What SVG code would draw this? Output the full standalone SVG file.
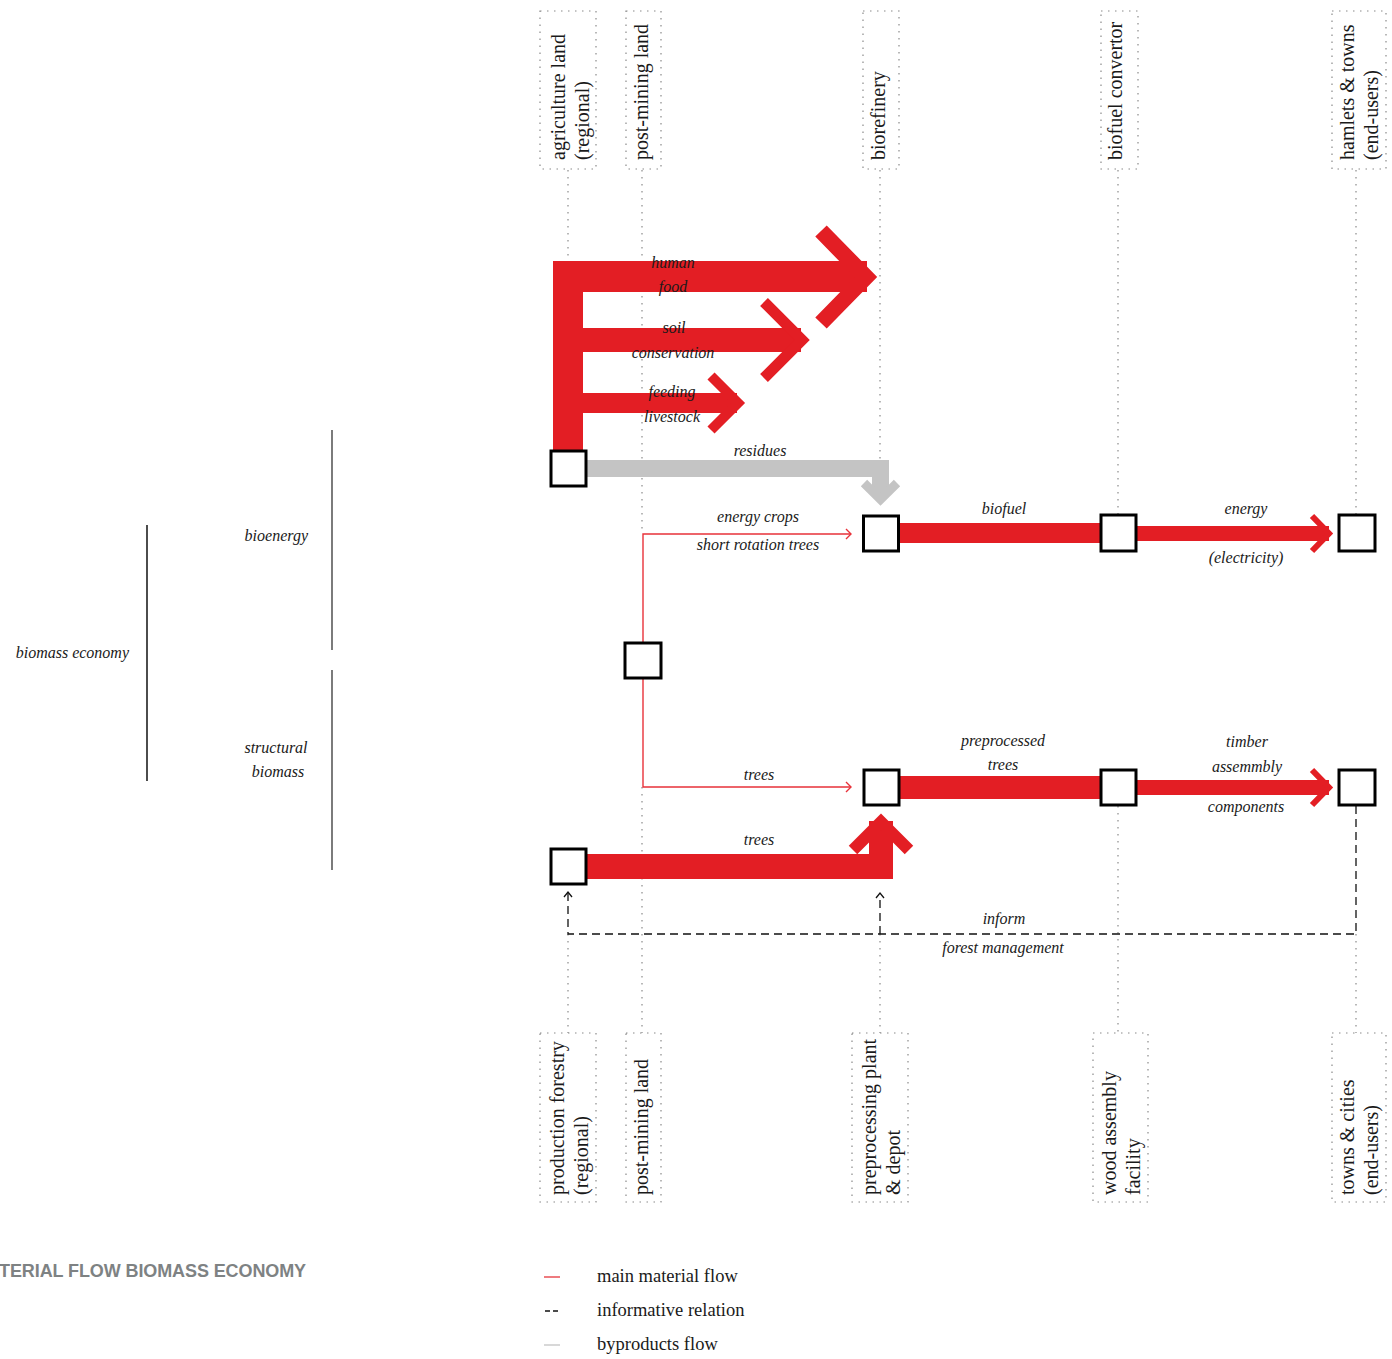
<svg xmlns="http://www.w3.org/2000/svg" width="1392" height="1359" viewBox="0 0 1392 1359">
<style>
.col{font-family:"Liberation Serif",serif;font-size:20px;fill:#1a1a1a}
.lbl{font-family:"Liberation Serif",serif;font-style:italic;font-size:16px;fill:#1a1a1a;text-anchor:middle}
.side{font-family:"Liberation Serif",serif;font-style:italic;font-size:16px;fill:#1a1a1a;text-anchor:end}
.leg{font-family:"Liberation Serif",serif;font-size:18.5px;fill:#1a1a1a}
.title{font-family:"Liberation Sans",Arial,sans-serif;font-weight:bold;font-size:18px;fill:#7e8283;text-anchor:end;letter-spacing:-0.1px}
.dbox{fill:none;stroke:#8a8a8a;stroke-width:1.2;stroke-dasharray:1.5 5.5}
.guide{fill:none;stroke:#8a8a8a;stroke-width:1.2;stroke-dasharray:1.5 5.5}
.node{fill:#fff;stroke:#000;stroke-width:3}
.red{fill:#e31e24}
.redc{fill:none;stroke:#e31e24;stroke-linejoin:miter;stroke-miterlimit:10}
.thin{fill:none;stroke:#e8323a;stroke-width:1.4}
.gray{fill:#c4c4c4}
.grayc{fill:none;stroke:#c4c4c4;stroke-linejoin:miter}
.dash{fill:none;stroke:#111;stroke-width:1.3;stroke-dasharray:8 5}
.ah{fill:none;stroke:#111;stroke-width:1.3}
.bar{stroke:#444;stroke-width:1.4}
.barb{stroke:#000;stroke-width:1.4}
</style>

<!-- column headers (top) -->
<g id="col-agriculture">
<rect class="dbox" x="540" y="11" width="56" height="158"/>
<text class="col" transform="translate(565,160) rotate(-90)">agriculture land</text>
<text class="col" transform="translate(589,160) rotate(-90)">(regional)</text>
</g>
<g id="col-postmining-top">
<rect class="dbox" x="626" y="11" width="35" height="158"/>
<text class="col" transform="translate(648,160) rotate(-90)">post-mining land</text>
</g>
<g id="col-biorefinery">
<rect class="dbox" x="863" y="11" width="36" height="158"/>
<text class="col" transform="translate(885,160) rotate(-90)">biorefinery</text>
</g>
<g id="col-biofuel-convertor">
<rect class="dbox" x="1101" y="11" width="37" height="158"/>
<text class="col" transform="translate(1122,160) rotate(-90)">biofuel convertor</text>
</g>
<g id="col-hamlets">
<rect class="dbox" x="1332" y="11" width="54" height="158"/>
<text class="col" transform="translate(1354,160) rotate(-90)">hamlets &amp; towns</text>
<text class="col" transform="translate(1378,160) rotate(-90)">(end-users)</text>
</g>

<!-- column headers (bottom) -->
<g id="col-production-forestry">
<rect class="dbox" x="540" y="1033" width="56" height="169"/>
<text class="col" transform="translate(564,1195) rotate(-90)">production forestry</text>
<text class="col" transform="translate(588,1195) rotate(-90)">(regional)</text>
</g>
<g id="col-postmining-bottom">
<rect class="dbox" x="626" y="1033" width="35" height="169"/>
<text class="col" transform="translate(648,1195) rotate(-90)">post-mining land</text>
</g>
<g id="col-preprocessing">
<rect class="dbox" x="852" y="1033" width="56" height="169"/>
<text class="col" transform="translate(876,1195) rotate(-90)">preprocessing plant</text>
<text class="col" transform="translate(900,1195) rotate(-90)">&amp; depot</text>
</g>
<g id="col-wood-assembly">
<rect class="dbox" x="1093" y="1033" width="55" height="169"/>
<text class="col" transform="translate(1116,1195) rotate(-90)">wood assembly</text>
<text class="col" transform="translate(1140,1195) rotate(-90)">facility</text>
</g>
<g id="col-towns">
<rect class="dbox" x="1332" y="1033" width="54" height="169"/>
<text class="col" transform="translate(1354,1195) rotate(-90)">towns &amp; cities</text>
<text class="col" transform="translate(1378,1195) rotate(-90)">(end-users)</text>
</g>

<!-- guide lines -->
<g id="guides">
<path class="guide" d="M568,170V260 M568,934V1033 M642,170V534 M642,787V1033 M880,170V460 M880,934V1033 M1118,170V515 M1118,806V1033 M1356,170V515 M1356,934V1033"/>
</g>

<!-- left hierarchy -->
<g id="hierarchy">
<line class="barb" x1="147" y1="525" x2="147" y2="781"/>
<line class="bar" x1="332" y1="430" x2="332" y2="650"/>
<line class="bar" x1="332" y1="670" x2="332" y2="870"/>
<text class="side" x="129" y="658">biomass economy</text>
<text class="side" x="308" y="541">bioenergy</text>
<text class="lbl" x="276" y="753">structural</text>
<text class="lbl" x="278" y="777">biomass</text>
</g>

<!-- connectors -->
<g id="connectors">
<!-- agriculture outputs -->
<rect class="red" x="553" y="261" width="30" height="192"/>
<rect class="red" x="553" y="261" width="314" height="31"/>
<polyline class="redc" stroke-width="16" points="821,231 866,277 821,323"/>
<rect class="red" x="583" y="328" width="218" height="24"/>
<polyline class="redc" stroke-width="11" points="764,302 802,340 764,378"/>
<rect class="red" x="583" y="393" width="154" height="20"/>
<polyline class="redc" stroke-width="10" points="711,376 738,403 711,430"/>
<!-- residues -->
<rect class="gray" x="586" y="460" width="303" height="17"/>
<rect class="gray" x="872" y="460" width="17" height="36"/>
<polyline class="grayc" stroke-width="9" points="864,483 880.5,499.5 897,483"/>
<!-- post-mining thin lines -->
<path class="thin" d="M643,643V534H851 M643,679V787H851"/>
<polyline class="thin" points="846,529 851,534 846,539"/>
<polyline class="thin" points="846,782 851,787 846,792"/>
<!-- bioenergy chain -->
<rect class="red" x="899" y="523" width="202" height="20"/>
<rect class="red" x="1137" y="526" width="192" height="15"/>
<polyline class="redc" stroke-width="6" points="1312,516 1329,533.5 1312,551"/>
<!-- structural chain -->
<rect class="red" x="899" y="776" width="202" height="23"/>
<rect class="red" x="1137" y="780" width="192" height="15"/>
<polyline class="redc" stroke-width="6" points="1312,770 1329,787.5 1312,805"/>
<!-- forestry trees -->
<rect class="red" x="586" y="854" width="307" height="25"/>
<rect class="red" x="869" y="821" width="24" height="58"/>
<polyline class="redc" stroke-width="12" points="853,850 881,822 909,850"/>
<!-- inform -->
<path class="dash" d="M1356,806V934H568V893 M880,934V895"/>
<polyline class="ah" points="564,897 568,892 572,897"/>
<polyline class="ah" points="876,898 880,893 884,898"/>
</g>

<!-- connector labels -->
<g id="labels">
<text class="lbl" x="673" y="268">human</text>
<text class="lbl" x="673" y="292">food</text>
<text class="lbl" x="674" y="333">soil</text>
<text class="lbl" x="673" y="358">conservation</text>
<text class="lbl" x="672" y="397">feeding</text>
<text class="lbl" x="672" y="422">livestock</text>
<text class="lbl" x="760" y="456">residues</text>
<text class="lbl" x="758" y="522">energy crops</text>
<text class="lbl" x="758" y="550">short rotation trees</text>
<text class="lbl" x="1004" y="514">biofuel</text>
<text class="lbl" x="1246" y="514">energy</text>
<text class="lbl" x="1246" y="563">(electricity)</text>
<text class="lbl" x="759" y="780">trees</text>
<text class="lbl" x="759" y="845">trees</text>
<text class="lbl" x="1003" y="746">preprocessed</text>
<text class="lbl" x="1003" y="770">trees</text>
<text class="lbl" x="1247" y="747">timber</text>
<text class="lbl" x="1247" y="772">assemmbly</text>
<text class="lbl" x="1246" y="812">components</text>
<text class="lbl" x="1004" y="924">inform</text>
<text class="lbl" x="1003" y="953">forest management</text>
</g>

<!-- nodes -->
<g id="node-agriculture"><rect class="node" x="551" y="451" width="35" height="35"/></g>
<g id="node-postmining"><rect class="node" x="625" y="643" width="36" height="35"/></g>
<g id="node-biorefinery"><rect class="node" x="863.5" y="516" width="35" height="35"/></g>
<g id="node-biofuel-convertor"><rect class="node" x="1101" y="515" width="35" height="36"/></g>
<g id="node-hamlets"><rect class="node" x="1339" y="515" width="36" height="36"/></g>
<g id="node-preprocessing"><rect class="node" x="864" y="770" width="35" height="35"/></g>
<g id="node-wood-assembly"><rect class="node" x="1101" y="770" width="35" height="35"/></g>
<g id="node-towns"><rect class="node" x="1339" y="770" width="36" height="35"/></g>
<g id="node-forestry"><rect class="node" x="551" y="849" width="35" height="35"/></g>

<!-- title & legend -->
<g id="title"><text class="title" x="306" y="1277">TERIAL FLOW BIOMASS ECONOMY</text></g>
<g id="legend">
<line x1="544" y1="1277" x2="560" y2="1277" stroke="#ea5a5f" stroke-width="1.6"/>
<text class="leg" x="597" y="1282">main material flow</text>
<line x1="545" y1="1311" x2="560" y2="1311" stroke="#111" stroke-width="1.3" stroke-dasharray="5 3"/>
<text class="leg" x="597" y="1316">informative relation</text>
<line x1="544" y1="1345" x2="560" y2="1345" stroke="#c8c8c8" stroke-width="1.4"/>
<text class="leg" x="597" y="1350">byproducts flow</text>
</g>
</svg>
